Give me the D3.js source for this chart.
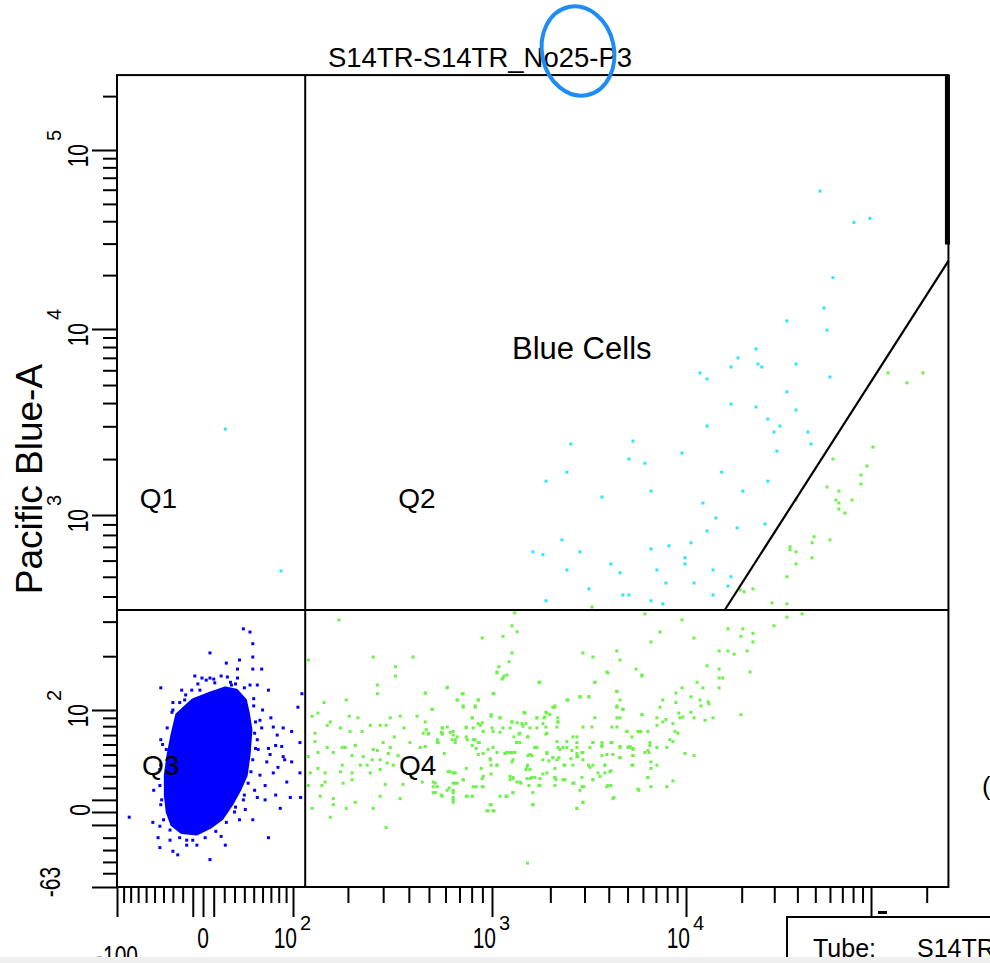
<!DOCTYPE html>
<html><head><meta charset="utf-8">
<script src="https://cdn.jsdelivr.net/npm/d3@7"></script>
<style>
html,body{margin:0;padding:0;background:#fff;overflow:hidden;}
svg{display:block;}
text{font-family:"Liberation Sans",Arial,Helvetica,sans-serif;fill:#000;}
</style>
</head><body>
<svg id="chart" width="990" height="963"></svg>
<script>
// ---------------- DATA (x channel vs Pacific Blue-A, values in fluorescence units) ----------------
const titleText = "S14TR-S14TR_No25-P3";
const yAxisLabel = "Pacific Blue-A";
const xMax = 262144, yMax = 262144, xMin = -100, yMin = -63;

// tick values
const xAnchors = [-100, 0, 100, 1000, 10000, 100000];
const yAnchors = [-63, 0, 100, 1000, 10000, 100000];
const xLongTicks = [-100, -10, 0, 10, 100, 1000, 10000, 100000];
const xShortTicks = [-90,-80,-70,-60,-50,-40,-30,-20,20,30,40,50,60,70,80,90,
  200,300,400,500,600,700,800,900,2000,3000,4000,5000,6000,7000,8000,9000,
  20000,30000,40000,50000,60000,70000,80000,90000,200000];
const yLongTicks = [-63, -10, 0, 10, 100, 1000, 10000, 100000];
const yShortTicks = [-50,-40,-30,-20,20,30,40,50,60,70,80,90,
  200,300,400,500,600,700,800,900,2000,3000,4000,5000,6000,7000,8000,9000,
  20000,30000,40000,50000,60000,70000,80000,90000,200000];
const xTickLabels = [{v:-100,t:"-100",e:""},{v:0,t:"0",e:""},{v:100,t:"10",e:"2"},{v:1000,t:"10",e:"3"},{v:10000,t:"10",e:"4"}];
const yTickLabels = [{v:-63,t:"-63",e:""},{v:0,t:"0",e:""},{v:100,t:"10",e:"2"},{v:1000,t:"10",e:"3"},{v:10000,t:"10",e:"4"},{v:100000,t:"10",e:"5"}];

// gates
const quadX = 118, quadY = 343;
const blueGateLine = [[16200, 343], [262144, 24000]];
const rightEdgeGate = [[262144, 262144], [262144, 29650]];

// dense core of the double-negative (blue) population, outline
const blueCore = [[-10,115],[6.5,126],[21,135],[32,131],[41,115],[44,97],[47,76],[45,50],[42,31],[35,18],[27,6],[18,-5],[6.5,-12],[-6,-17],[-21,-16],[-31,-10],[-36,0],[-38,14],[-38,31],[-35,50],[-31,70],[-26,94]];

// blue events outside the core
const bluePoints = [[39,276],[46,266],[49,232],[6.5,208],[22,184],[35,191],[49,198],[49,171],[59,171],[33,171],[-8,157],[-1,153],[6.5,153],[17,157],[23,155],[33,153],[-43,135],[-21,131],[-11,131],[46,140],[54,140],[67,131],[50,117],[-30,111],[-30,100],[60,100],[70,90],[59,78],[73,79],[86,78],[98,74],[78,70],[-43,65],[54,65],[67,56],[84,58],[86,48],[98,43],[65,43],[79,38],[57,31],[73,33],[91,25],[63,10],[82,3],[96,12],[-51,18],[-82,-4],[-52,-8],[-44,-11],[-46,-20],[-44,-28],[-30,-31],[-25,-34],[-16,-26],[-6,-26],[6.5,-38],[21,-26],[17,-19],[35,-6],[49,-6],[67,-20],[31,4],[39,10],[54,12],[-33,-14],[-3,-14],[-16,-22],[113,125],[107,104],[110,62],[110,33],[111,12],[-18,115],[-23,87],[-37,55],[-44,36],[-42,10],[-33,-22],[41,2],[51,18],[55,55],[57,87],[27,140],[11,144],[-3,131],[69,50],[76,59],[88,45],[63,22],[76,14]];
// blue events hugging the edge of the core
const blueEdge = [[-5,142],[3,149],[10,151],[26,145],[31,142],[40,135],[50,106],[52,85],[51,72],[52,56],[49,45],[47,34],[44,24],[40,14],[30,0],[22,-8],[12,-15],[2,-20],[-10,-22],[-23,-20],[-40,-6],[-43,6],[-44,22],[-43,40],[-41,60],[-36,78],[-31,97],[-23,111],[-17,123]];

// "Blue Cells" gate events (cyan)
const cyanPoints = [[53000,58900],[80900,39400],[98700,41500],[62300,19350],[55700,13120],[57800,9870],[35100,11090],[23900,7820],[19100,6990],[17500,6250],[24500,6490],[25700,6250],[39300,6490],[60000,5520],[11900,5810],[12990,5390],[35100,4590],[17500,3955],[23900,3810],[39300,3670],[27700,3280],[13000,3010],[32200,3010],[29900,2795],[45600,2795],[47400,2410],[31000,2207],[2550,2410],[5330,2500],[5080,2000],[6140,1900],[9530,2155],[2435,1700],[1900,1520],[15600,1700],[27700,1520],[3690,1250],[6600,1345],[20300,1345],[12350,1160],[14500,967],[26700,905],[13000,837],[18900,866],[2295,757],[1626,662],[1832,641],[2840,662],[10640,733],[6600,684],[8165,708],[9870,619],[9870,578],[4100,578],[2435,540],[4570,523],[7080,540],[14000,540],[17500,500],[7880,466],[11050,466],[16860,450],[3160,436],[4730,407],[5080,407],[14000,407],[1900,381],[6600,381],[7600,368],[21,2900],[83,534]];

// green events, left part of Q4
const greenLeft = [[180,306],[123,191],[268,198],[419,198],[344,176],[344,157],[281,140],[281,125],[196,115],[150,111],[129,92],[139,96],[162,85],[156,81],[203,92],[225,90],[259,81],[290,81],[310,81],[325,90],[363,92],[438,92],[480,126],[518,101],[611,135],[682,115],[721,125],[729,104],[860,115],[832,104],[898,248],[1268,286],[1348,267],[1310,332],[1140,253],[1268,208],[1225,187],[1085,176],[1060,165],[1153,157],[1126,151],[1012,125],[1768,145],[2945,208],[3315,198],[3395,145],[4400,213],[4570,191],[3910,165],[4400,129],[2850,120],[3160,120],[2435,115],[2110,104],[4570,90],[4400,104],[4570,115],[4735,101],[1480,96],[1920,96],[1705,90],[990,92],[1100,90],[1268,85],[805,90],[880,81],[753,78],[579,78],[579,72],[485,76],[496,71],[653,74],[682,68],[668,62],[554,62],[454,57],[405,62],[379,78],[340,68],[300,62],[268,55],[236,74],[205,74],[183,78],[134,72],[134,63],[156,57],[139,52],[123,48],[168,52],[194,57],[218,59],[210,49],[187,40],[231,40],[250,40],[265,45],[290,45],[281,54],[318,51],[314,42],[355,49],[336,40],[290,36],[259,33],[210,33],[183,34],[139,37],[126,33],[152,33],[152,25],[146,22],[189,24],[210,27],[123,22],[143,13],[168,11],[168,6],[129,3],[162,-4],[196,3],[218,8],[268,3],[290,13],[310,-12],[307,23],[363,11],[375,23],[414,29],[464,25],[524,25],[537,16],[611,18],[653,16],[653,10],[572,14],[632,34],[668,33],[668,24],[729,27],[762,13],[805,13],[841,21],[898,28],[990,32],[1060,40],[980,45],[908,51],[860,62],[814,65],[1012,57],[1195,52],[1268,52],[1283,45],[1340,62],[1395,72],[1525,68],[1665,57],[1570,50],[1525,40],[1570,36],[1570,28],[1768,28],[1920,51],[2060,47],[2190,57],[2435,57],[2615,68],[2740,57],[2740,48],[2945,52],[3315,62],[3688,59],[4153,62],[4570,57],[5020,57],[4200,50],[3688,49],[3145,40],[2945,45],[2615,40],[2380,40],[2165,45],[1830,45],[1920,33],[2110,29],[1768,22],[2320,27],[2615,24],[2909,21],[3315,27],[3520,33],[3820,40],[4055,34],[4570,47],[3910,21],[4200,11],[2945,8],[2740,3],[1625,6],[1283,16],[1195,13],[980,6],[958,1],[1012,1],[898,21],[1525,-41],[1283,29],[1165,51],[1625,16],[1395,25],[1240,27],[1348,84],[1705,78],[1920,72],[1875,91],[2190,85],[2060,104],[1570,78],[1445,80],[1240,78],[1100,73],[1000,78],[898,84],[814,78],[762,65],[548,65],[325,57],[239,48],[187,57]];

// green events, dense middle of Q4
const greenMid = [[1061,163],[1139,153],[1195,159],[1746,145],[3394,145],[3959,163],[5928,157],[612,136],[480,126],[729,125],[1024,125],[2840,120],[3160,120],[683,115],[860,115],[2464,115],[4406,129],[729,106],[832,106],[2111,106],[4406,106],[4730,101],[518,101],[1462,97],[1897,97],[1990,94],[990,94],[5928,94],[805,90],[1100,90],[1705,90],[1853,90],[2188,90],[3394,90],[4406,90],[480,85],[1268,85],[1428,83],[1497,83],[2188,85],[860,83],[1832,83],[579,78],[612,79],[632,73],[754,79],[908,74],[1012,74],[1139,78],[1897,79],[2162,79],[2944,79],[3276,79],[4153,79],[4406,79],[4960,74],[5652,74],[5858,74],[469,72],[496,72],[653,70],[668,65],[573,73],[579,71],[754,68],[1298,68],[1377,71],[1533,68],[1897,71],[2741,68],[832,65],[870,62],[1345,62],[1395,62],[2162,63],[2435,63],[2741,62],[3315,62],[3688,62],[3688,58],[4104,62],[4570,58],[5140,58],[5330,56],[6520,62],[480,58],[548,62],[645,65],[805,59],[841,56],[958,55],[1061,52],[1195,52],[1238,52],[1314,52],[1665,57],[1705,57],[1533,49],[1920,52],[2240,55],[2322,57],[2584,54],[2741,51],[2909,52],[3198,57],[3913,50],[4570,47],[5330,49],[6440,52],[592,51],[860,50],[980,46],[990,40],[1061,40],[1268,43],[1607,49],[1966,44],[2062,47],[2214,47],[2554,46],[2774,48],[3315,40],[3821,40],[5265,40],[754,37],[889,37],[1515,38],[1497,36],[2111,37],[2350,40],[3198,38],[618,34],[653,33],[908,30],[1238,30],[1283,28],[1345,25],[1515,28],[1607,29],[1665,29],[1832,32],[2111,29],[2136,27],[2378,27],[2909,29],[3315,27],[3601,30],[3821,33],[4104,35],[6360,29],[729,27],[683,24],[653,24],[536,24],[524,21],[548,21],[625,20],[814,21],[908,21],[1411,24],[1551,22],[1746,22],[2111,22],[2646,24],[2978,21],[3959,22],[4104,22],[524,16],[579,13],[653,18],[653,12],[653,8],[754,13],[805,13],[1100,13],[1180,13],[1283,16],[2840,18],[5652,19],[4253,12],[2944,8],[1626,6],[2741,3],[990,6],[946,1],[1024,1]];

// green events, right part of Q4
const greenRight = [[6140,328],[9530,306],[7340,266],[6600,237],[11050,248],[16860,276],[20300,276],[19800,253],[23000,262],[23000,237],[29900,286],[35100,316],[42400,328],[15100,213],[16860,213],[18200,205],[21400,213],[5520,171],[5930,159],[12990,178],[15100,171],[15100,153],[15800,153],[22200,165],[11470,145],[12350,135],[9530,135],[15100,135],[8870,126],[10640,120],[11900,115],[13150,112],[13300,109],[7600,115],[7340,104],[8870,111],[12050,106],[4730,101],[5930,94],[9190,96],[9640,91],[9300,90],[10640,97],[11050,90],[12670,87],[14000,90],[19800,94],[7080,90],[7600,85],[7880,88],[7080,81],[8560,83],[4960,74],[5790,74],[6360,74],[8770,74],[9080,72],[5265,68],[8260,65],[8560,63],[6520,59],[5140,57],[5330,55],[7080,57],[7970,57],[6140,52],[6360,54],[9870,51],[11050,49],[5330,49],[5330,40],[6600,43],[7080,40],[6600,37],[6360,29],[8560,26],[6600,21],[7970,21],[5720,18]];

// green events above the quadrant line, right of the Blue Cells gate
const greenUpper = [[123500,5810],[156400,5140],[190800,5810],[102400,2320],[62300,2000],[95100,1835],[88200,1641],[88200,1468],[57800,1415],[67100,1345],[78900,1204],[64650,1204],[67100,1160],[67100,1077],[72300,1025],[39300,1204],[49200,784],[48000,733],[60000,757],[36500,701],[36500,677],[39300,662],[48000,619],[39300,578],[35100,500],[20600,422],[23000,436],[19600,431],[29200,372],[35100,368],[3280,355]];

const quadLabels = [{t:"Q1",x:-68,y:1093},{t:"Q2",x:355,y:1093},{t:"Q3",x:-65,y:31},{t:"Q4",x:358,y:31}];
const gateLabel = {t:"Blue Cells", x:1268, y:6900};

// ---------------- SCALES ----------------
const T = v => Math.asinh(v / 80);            // biexponential-like display transform
const xs = d3.scaleLinear().domain(xAnchors.map(T)).range([117, 203, 293, 492, 686, 871]);
const ys = d3.scaleLinear().domain(yAnchors.map(T)).range([887, 812, 710, 515, 329, 150]);
const x = v => xs(T(v));
const y = v => ys(T(v));

const svg = d3.select("#chart");
const L = x(xMin), R = x(xMax), B = y(yMin), Tp = y(yMax);

// ---------------- EVENTS ----------------
const dots = svg.append("g");
function drawDots(data, color){
  dots.append("g").selectAll("rect").data(data).join("rect")
    .attr("x", d => x(d[0]) - 1.5).attr("y", d => y(d[1]) - 1.5)
    .attr("width", 3).attr("height", 3).attr("fill", color);
}
const GREEN = "#6ef04c", CYAN = "#2fe4ff", BLUE = "#0000ff";
drawDots(greenLeft, GREEN);
drawDots(greenMid, GREEN);
drawDots(greenRight, GREEN);
drawDots(greenUpper, GREEN);
drawDots(cyanPoints, CYAN);
dots.append("path").datum(blueCore)
  .attr("d", d3.line().x(d => x(d[0])).y(d => y(d[1])).curve(d3.curveLinearClosed))
  .attr("fill", BLUE).attr("stroke", BLUE).attr("stroke-width", 3).attr("stroke-linejoin","round");
drawDots(bluePoints, BLUE);
drawDots(blueEdge, BLUE);

// ---------------- AXES ----------------
function styleAxis(g){ g.select(".domain").remove(); g.selectAll("line").attr("stroke","#000").attr("stroke-width",2); }
const gx = svg.append("g").attr("transform", `translate(0,${B})`);
gx.append("g").call(d3.axisBottom(xs).tickValues(xShortTicks.map(T)).tickSize(16).tickFormat("")).call(styleAxis);
gx.append("g").call(d3.axisBottom(xs).tickValues(xLongTicks.map(T)).tickSize(30).tickFormat("")).call(styleAxis);
const gy = svg.append("g").attr("transform", `translate(${L},0)`);
gy.append("g").call(d3.axisLeft(ys).tickValues(yShortTicks.map(T)).tickSize(14).tickFormat("")).call(styleAxis);
gy.append("g").call(d3.axisLeft(ys).tickValues(yLongTicks.map(T)).tickSize(25).tickFormat("")).call(styleAxis);

// frame
svg.append("rect").attr("x", L).attr("y", Tp).attr("width", R - L).attr("height", B - Tp)
  .attr("fill", "none").attr("stroke", "#000").attr("stroke-width", 2);

// quadrant lines & gates
const lines = svg.append("g").attr("stroke", "#000").attr("fill","none");
lines.append("line").attr("x1", x(quadX)).attr("x2", x(quadX)).attr("y1", Tp).attr("y2", B).attr("stroke-width", 2);
lines.append("line").attr("x1", L).attr("x2", R).attr("y1", y(quadY)).attr("y2", y(quadY)).attr("stroke-width", 2);
lines.append("line").attr("x1", x(blueGateLine[0][0])).attr("y1", y(blueGateLine[0][1]))
  .attr("x2", x(blueGateLine[1][0])).attr("y2", y(blueGateLine[1][1])).attr("stroke-width", 2.2);
lines.append("line").attr("x1", x(rightEdgeGate[0][0]) - 1).attr("y1", y(rightEdgeGate[0][1]))
  .attr("x2", x(rightEdgeGate[1][0]) - 1).attr("y2", y(rightEdgeGate[1][1])).attr("stroke-width", 5);

// ---------------- TICK LABELS ----------------
const tl = svg.append("g");
xTickLabels.forEach(d => {
  const px = x(d.v);
  if (d.e) {
    tl.append("text").attr("transform", `translate(${px + 4},948) scale(1,1.4)`).attr("text-anchor","end")
      .style("font-size","21px").text(d.t);
    tl.append("text").attr("x", px + 7).attr("y", 930).attr("text-anchor","start")
      .style("font-size","20px").text(d.e);
  } else {
    const by = d.v < 0 ? 966 : 948;
    tl.append("text").attr("transform", `translate(${px},${by}) scale(1,1.4)`).attr("text-anchor","middle")
      .style("font-size","21px").text(d.t);
  }
});
yTickLabels.forEach(d => {
  const py = y(d.v);
  if (d.e) {
    tl.append("text").attr("transform", `translate(88,${py - 6}) rotate(-90) scale(1,1.4)`).attr("text-anchor","end")
      .style("font-size","21px").text(d.t);
    tl.append("text").attr("transform", `translate(61,${py - 9}) rotate(-90)`).attr("text-anchor","start")
      .style("font-size","20px").text(d.e);
  } else if (d.v < 0) {
    tl.append("text").attr("transform", `translate(60,${py - 5}) rotate(-90) scale(1,1.4)`).attr("text-anchor","middle")
      .style("font-size","21px").text(d.t);
  } else {
    tl.append("text").attr("transform", `translate(90,${py - 2}) rotate(-90) scale(1,1.4)`).attr("text-anchor","middle")
      .style("font-size","21px").text(d.t);
  }
});

// axis title and plot title
svg.append("text").attr("transform", `translate(42,${(B + Tp) / 2 - 2}) rotate(-90)`).attr("text-anchor","middle")
  .style("font-size","37px").text(yAxisLabel);
svg.append("text").attr("x", 480).attr("y", 67).attr("text-anchor","middle").style("font-size","27.5px").text(titleText);

// quadrant / gate labels
quadLabels.forEach(q => {
  svg.append("text").attr("x", x(q.x)).attr("y", y(q.y)).style("font-size","28px").text(q.t);
});
svg.append("text").attr("x", x(gateLabel.x)).attr("y", y(gateLabel.y)).style("font-size","31px").text(gateLabel.t);

// highlight circle drawn on the screenshot
svg.append("ellipse").attr("cx", 578).attr("cy", 51).attr("rx", 36).attr("ry", 45)
  .attr("transform","rotate(-12,578,51)")
  .attr("fill","none").attr("stroke","#1e8cf5").attr("stroke-width",4);

// tube info box (cut off at the window edge)
svg.append("rect").attr("x", 787).attr("y", 917).attr("width", 260).attr("height", 80)
  .attr("fill","#fff").attr("stroke","#000").attr("stroke-width",2);
svg.append("text").attr("x", 813).attr("y", 957).style("font-size","25px").text("Tube:");
svg.append("text").attr("x", 917).attr("y", 957).style("font-size","25px").text("S14TR");
svg.append("rect").attr("x", 878).attr("y", 911).attr("width", 9).attr("height", 3).attr("fill","#000");
svg.append("text").attr("x", 982).attr("y", 795).style("font-size","26px").attr("fill","#222").text("(");

// bottom screen strip
svg.append("rect").attr("x", 0).attr("y", 957).attr("width", 990).attr("height", 6).attr("fill","#efefef");
</script>
</body></html>
